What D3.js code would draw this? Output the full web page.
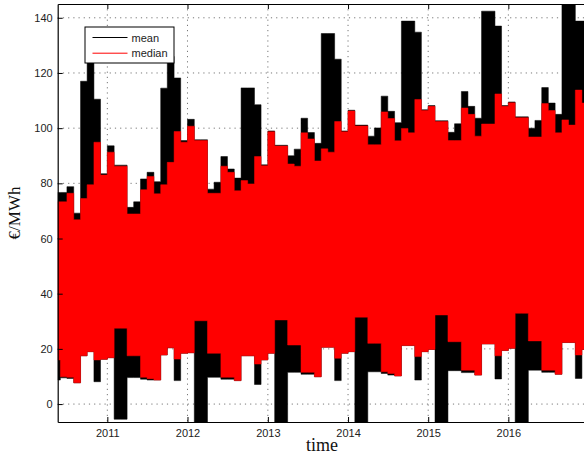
<!DOCTYPE html>
<html>
<head>
<meta charset="utf-8">
<script src="https://cdn.jsdelivr.net/npm/d3@7"></script>
<style>
  body { margin: 0; background: #fff; }
  .sans { font-family: "Liberation Sans", Arial, sans-serif; }
  .serif { font-family: "Liberation Serif", "Times New Roman", serif; }
</style>
</head>
<body>
<svg id="chart" width="584" height="457"></svg>
<script>
// Monthly periods (the first one starts part-way through May 2010)
const months = [
  "2010-05","2010-06","2010-07","2010-08","2010-09","2010-10","2010-11","2010-12",
  "2011-01","2011-02","2011-03","2011-04","2011-05","2011-06","2011-07","2011-08","2011-09","2011-10","2011-11","2011-12",
  "2012-01","2012-02","2012-03","2012-04","2012-05","2012-06","2012-07","2012-08","2012-09","2012-10","2012-11","2012-12",
  "2013-01","2013-02","2013-03","2013-04","2013-05","2013-06","2013-07","2013-08","2013-09","2013-10","2013-11","2013-12",
  "2014-01","2014-02","2014-03","2014-04","2014-05","2014-06","2014-07","2014-08","2014-09","2014-10","2014-11","2014-12",
  "2015-01","2015-02","2015-03","2015-04","2015-05","2015-06","2015-07","2015-08","2015-09","2015-10","2015-11","2015-12",
  "2016-01","2016-02","2016-03","2016-04","2016-05","2016-06","2016-07","2016-08","2016-09","2016-10","2016-11","2016-12"
];
const seriesStart = "2010-05-20";
const seriesEnd = "2016-12-15";

// Range of the hourly mean price within each month (€/MWh)
const meanMax = [
  76.7, 76.7, 78.8, 69.2, 117.0, 128.0, 110.5, 83.5,
  93.6, 86.6, 86.6, 71.3, 73.3, 81.6, 84.0, 80.6, 114.5, 126.0, 118.2, 95.5,
  103.2, 95.8, 95.8, 77.9, 80.4, 89.7, 85.2, 81.9, 114.6, 114.6, 108.5, 86.7,
  99.0, 93.8, 93.8, 90.0, 92.4, 103.6, 98.4, 94.5, 134.3, 134.3, 125.0, 99.0,
  106.5, 101.1, 101.1, 97.1, 100.1, 111.6, 106.1, 102.0, 138.8, 138.8, 134.8, 106.7,
  108.2, 102.7, 102.7, 98.5, 101.6, 113.3, 107.9, 103.6, 142.4, 142.4, 137.0, 108.2,
  109.5, 104.1, 104.1, 100.0, 102.8, 114.7, 109.1, 105.0, 150.0, 150.0, 138.8, 138.8
];
const meanMin = [
  8.7, 9.5, 9.3, 7.7, 17.5, 19.0, 8.1, 16.2,
  16.8, -5.5, -5.5, 9.6, 9.6, 9.0, 8.7, 8.7, 17.8, 20.4, 8.5, 18.4,
  18.6, -8, -8, 9.7, 9.7, 9.0, 9.0, 8.5, 17.5, 17.5, 7.1, 16.0,
  18.4, -8, -8, 11.5, 11.5, 10.8, 10.8, 9.9, 20.6, 20.6, 8.5, 18.4,
  19.0, -8, -8, 11.7, 11.7, 11.1, 10.5, 10.2, 21.2, 21.2, 8.7, 19.0,
  19.8, -8, -8, 12.1, 12.1, 11.4, 11.4, 10.5, 21.8, 21.8, 9.1, 19.4,
  20.2, -8, -8, 12.3, 12.3, 11.5, 11.5, 10.8, 22.3, 22.3, 9.3, 19.8
];

// Range of the hourly median price within each month (€/MWh)
const medianMax = [
  73.3, 73.3, 76.4, 66.8, 74.5, 79.5, 94.9, 83.0,
  91.3, 86.2, 86.2, 68.9, 68.9, 77.7, 82.5, 76.2, 79.5, 87.6, 98.8, 94.9,
  100.7, 95.5, 95.5, 76.4, 76.4, 86.2, 84.0, 77.3, 81.0, 79.8, 89.7, 86.4,
  98.7, 93.5, 93.5, 87.0, 86.2, 98.3, 96.1, 88.1, 92.5, 91.3, 102.4, 98.7,
  106.2, 100.8, 100.8, 94.0, 94.0, 105.9, 103.5, 95.4, 99.9, 98.3, 110.4, 106.4,
  107.9, 102.4, 102.4, 95.5, 95.5, 107.3, 105.0, 97.1, 101.5, 101.5, 112.4, 107.9,
  109.2, 103.8, 103.8, 96.8, 96.8, 108.9, 106.4, 98.3, 103.0, 101.1, 113.8, 109.1
];
const medianMin = [
  16.0, 9.9, 9.7, 7.7, 17.5, 19.0, 16.0, 16.2,
  16.8, 27.5, 27.5, 17.5, 17.5, 9.7, 9.2, 8.7, 17.8, 20.4, 16.3, 18.4,
  18.6, 30.2, 30.2, 18.4, 18.4, 9.7, 9.7, 8.5, 17.5, 17.5, 14.5, 16.0,
  18.4, 30.5, 30.5, 21.4, 21.4, 11.5, 11.5, 9.9, 20.6, 20.6, 16.6, 18.4,
  19.0, 31.5, 31.5, 22.0, 22.0, 11.7, 11.1, 10.2, 21.2, 21.2, 17.2, 19.0,
  19.8, 32.3, 32.3, 22.6, 22.6, 12.3, 12.3, 10.5, 21.8, 21.8, 17.5, 19.4,
  20.2, 32.9, 32.9, 22.9, 22.9, 12.3, 12.3, 10.8, 22.3, 22.3, 17.8, 19.8
];

const yTicks = [0, 20, 40, 60, 80, 100, 120, 140];
const xTickYears = ["2011", "2012", "2013", "2014", "2015", "2016"];
const yDomain = [-6.5, 145];
const legendLabels = ["mean", "median"];

// ---- layout ----
const svg = d3.select("#chart");
const plot = { left: 57.7, right: 585, top: 4, bottom: 422 };

const parseMonth = d3.timeParse("%Y-%m");
const parseDay = d3.timeParse("%Y-%m-%d");
const parseYear = d3.timeParse("%Y");

const start = parseDay(seriesStart), end = parseDay(seriesEnd);
const x = d3.scaleTime().domain([start, end]).range([plot.left, plot.right]);
const y = d3.scaleLinear().domain(yDomain).range([plot.bottom, plot.top]);

// step rows: each month holds its value until the next month starts
function rows(lo, hi) {
  const r = months.map((m, i) => ({
    date: i === 0 ? start : parseMonth(m), lo: lo[i], hi: hi[i]
  }));
  r.push({ date: end, lo: lo[lo.length - 1], hi: hi[hi.length - 1] });
  return r;
}

svg.append("defs").append("clipPath").attr("id", "plotClip")
  .append("rect")
  .attr("x", plot.left).attr("y", plot.top)
  .attr("width", plot.right - plot.left).attr("height", plot.bottom - plot.top);

// dotted grid
const grid = svg.append("g").attr("stroke", "#777").attr("stroke-width", 1)
  .attr("stroke-dasharray", "1.2,4");
grid.selectAll(".gy").data(yTicks).join("line")
  .attr("x1", plot.left).attr("x2", plot.right)
  .attr("y1", d => y(d)).attr("y2", d => y(d));
grid.selectAll(".gx").data(xTickYears).join("line")
  .attr("x1", d => x(parseYear(d))).attr("x2", d => x(parseYear(d)))
  .attr("y1", plot.top).attr("y2", plot.bottom);

const band = d3.area()
  .x(d => x(d.date))
  .y0(d => y(d.lo))
  .y1(d => y(d.hi))
  .curve(d3.curveStepAfter);

const marks = svg.append("g").attr("clip-path", "url(#plotClip)");
marks.append("path").datum(rows(meanMin, meanMax))
  .attr("d", band).attr("fill", "#000").attr("stroke", "#000").attr("stroke-width", 0.5);
marks.append("path").datum(rows(medianMin, medianMax))
  .attr("d", band).attr("fill", "#ff0000").attr("stroke", "#ff0000").attr("stroke-width", 0.5);

// axes
const yAxis = d3.axisLeft(y).tickValues(yTicks).tickSizeInner(-5).tickSizeOuter(0).tickPadding(5);
const gy = svg.append("g").attr("transform", `translate(${plot.left},0)`).call(yAxis);
const xAxis = d3.axisBottom(x).tickValues(xTickYears.map(parseYear))
  .tickFormat(d3.timeFormat("%Y")).tickSizeInner(-5).tickSizeOuter(0).tickPadding(7);
const gx = svg.append("g").attr("transform", `translate(0,${plot.bottom})`).call(xAxis);
const xTop = d3.axisTop(x).tickValues(xTickYears.map(parseYear))
  .tickFormat("").tickSizeInner(-5).tickSizeOuter(0);
const gt = svg.append("g").attr("transform", `translate(0,${plot.top})`).call(xTop);

[gy, gx, gt].forEach(g => {
  g.attr("font-family", null).attr("font-size", null);
  g.select(".domain").attr("stroke", "#000").attr("stroke-width", 1.2);
  g.selectAll(".tick line").attr("stroke", "#000");
  g.selectAll(".tick text").attr("class", "sans")
    .attr("font-size", 11).attr("fill", "#222");
});

// axis titles
svg.append("text").attr("class", "serif")
  .attr("x", 322).attr("y", 451)
  .attr("text-anchor", "middle")
  .attr("font-size", 18).attr("fill", "#111")
  .text("time");
svg.append("text").attr("class", "serif")
  .attr("transform", `translate(20,${(plot.top + plot.bottom) / 2}) rotate(-90)`)
  .attr("text-anchor", "middle")
  .attr("font-size", 17).attr("fill", "#111")
  .text("€/MWh");

// legend
const legend = svg.append("g");
legend.append("rect")
  .attr("x", 85).attr("y", 27).attr("width", 89).attr("height", 36)
  .attr("fill", "#fff").attr("stroke", "#000").attr("stroke-width", 1);
const legendColors = ["#000", "#ff0000"];
legendLabels.forEach((lab, i) => {
  const ly = 37.5 + i * 15.7;
  legend.append("line")
    .attr("x1", 92.5).attr("x2", 127.5).attr("y1", ly).attr("y2", ly)
    .attr("stroke", legendColors[i]).attr("stroke-width", 1);
  legend.append("text").attr("class", "sans")
    .attr("x", 131.5).attr("y", ly + 4)
    .attr("font-size", 11).attr("fill", "#222")
    .text(lab);
});
</script>
</body>
</html>
